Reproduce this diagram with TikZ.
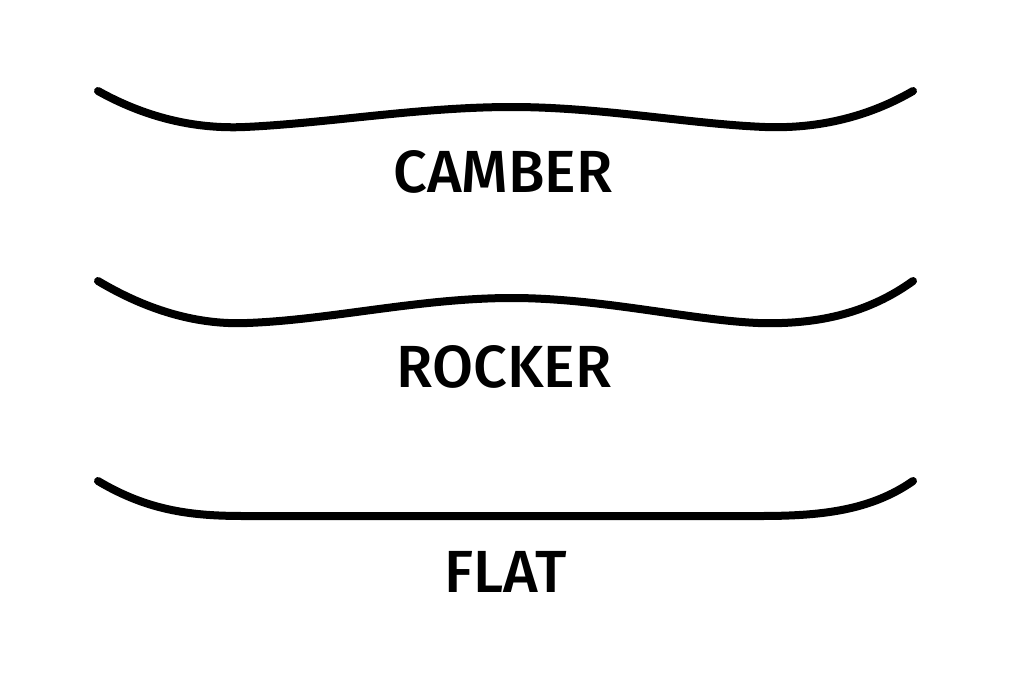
\documentclass[tikz,border=0pt]{standalone}
\usepackage{fontspec}
\setmainfont{Fira Sans}[BoldFont={Fira Sans Medium}]
\begin{document}
\begin{tikzpicture}[x=1pt,y=-1pt,
  board/.style={line width=8pt,line cap=round,black},
  lbl/.style={font=\fontsize{59.5}{60}\selectfont\bfseries,inner sep=0pt,anchor=base}]
\useasboundingbox (0,0) rectangle (1024,683);
\fill[white] (0,0) rectangle (1024,683);
% camber
\draw[board] (98,91) .. controls (150,120) and (200,129) .. (245,127)
  .. controls (330,123) and (420,107) .. (512,107)
  .. controls (600,107) and (690,124) .. (765,127)
  .. controls (820,129) and (870,116) .. (913,91);
\node[lbl] (camber) at (503,192) {CAMBER};
% rocker
\draw[board] (98,281) .. controls (150,312) and (200,325) .. (247,323)
  .. controls (330,320) and (420,298) .. (512,298)
  .. controls (600,298) and (690,320) .. (758,323)
  .. controls (820,325) and (870,312) .. (913,281);
\node[lbl] (rocker) at (504,387) {ROCKER};
% flat
\draw[board] (98,481) .. controls (150,512) and (195,516) .. (245,516)
  -- (760,516)
  .. controls (820,516) and (870,511) .. (913,481);
\node[lbl] (flat) at (506,592) {FLAT};
\end{tikzpicture}
\end{document}
